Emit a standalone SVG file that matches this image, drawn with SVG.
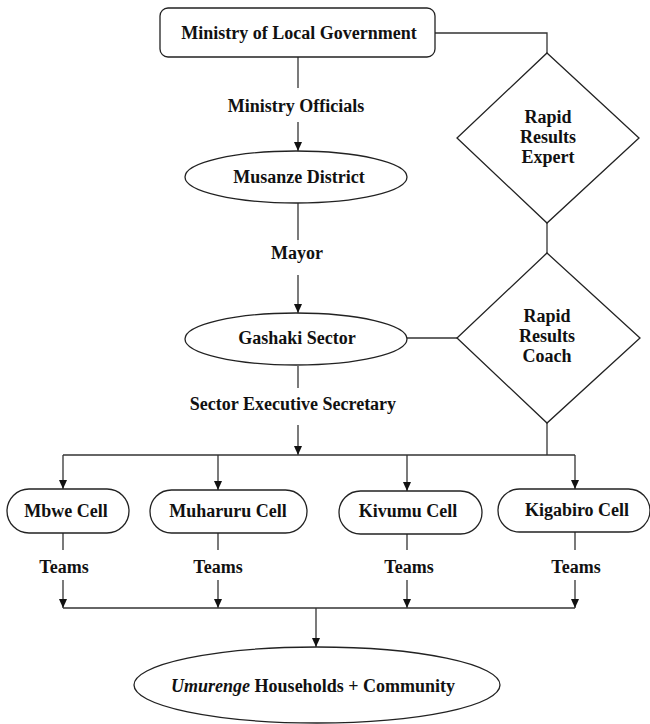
<svg xmlns="http://www.w3.org/2000/svg" width="650" height="724" viewBox="0 0 650 724">
<defs>
<marker id="arr" markerUnits="userSpaceOnUse" markerWidth="9" markerHeight="9" refX="9" refY="4.5" orient="auto">
<path d="M0,0.5 L9,4.5 L0,8.5 z" fill="#111"/>
</marker>
<style>
.shape{fill:#fff;stroke:#222;stroke-width:1.3}
.ln{fill:none;stroke:#333;stroke-width:1.3}
.t{font-family:"Liberation Serif","Times New Roman",serif;font-weight:bold;font-size:18px;fill:#111;text-anchor:middle}
</style>
</defs>
<rect width="650" height="724" fill="#fff"/>
<g id="connectors">
<path class="ln" d="M435,33 H547 V53"/>
<path class="ln" d="M547,223 V253"/>
<path class="ln" d="M407,338 H457"/>
<path class="ln" d="M547,423 V455"/>
<path class="ln" d="M298,57 V88"/>
<path class="ln" d="M298,122 V151" marker-end="url(#arr)"/>
<path class="ln" d="M298,203 V240"/>
<path class="ln" d="M298,275 V313" marker-end="url(#arr)"/>
<path class="ln" d="M298,366 V388"/>
<path class="ln" d="M298,425 V455" marker-end="url(#arr)"/>
<path class="ln" d="M63,455 H575"/>
<path class="ln" d="M63,455 V489" marker-end="url(#arr)"/>
<path class="ln" d="M218,455 V490" marker-end="url(#arr)"/>
<path class="ln" d="M407,455 V491" marker-end="url(#arr)"/>
<path class="ln" d="M575,455 V489" marker-end="url(#arr)"/>
<path class="ln" d="M63,533 V550 M218,533 V550 M407,534 V550 M575,532 V550"/>
<path class="ln" d="M63,580 V608" marker-end="url(#arr)"/>
<path class="ln" d="M218,580 V608" marker-end="url(#arr)"/>
<path class="ln" d="M407,580 V608" marker-end="url(#arr)"/>
<path class="ln" d="M575,580 V608" marker-end="url(#arr)"/>
<path class="ln" d="M63,608 H575"/>
<path class="ln" d="M316,608 V647" marker-end="url(#arr)"/>
<text class="t" x="296" y="112">Ministry Officials</text>
<text class="t" x="297" y="259">Mayor</text>
<text class="t" x="293" y="410">Sector Executive Secretary</text>
<text class="t" x="64" y="573">Teams</text>
<text class="t" x="218" y="573">Teams</text>
<text class="t" x="409" y="573">Teams</text>
<text class="t" x="576" y="573">Teams</text>
</g>
<g id="ministry">
<rect class="shape" x="160" y="8" width="275" height="49" rx="8"/>
<text class="t" x="299" y="39">Ministry of Local Government</text>
</g>
<g id="expert">
<path class="shape" d="M547,53 L639,138 L547,223 L457,138 z"/>
<text class="t" x="548" y="123">Rapid</text>
<text class="t" x="548" y="143">Results</text>
<text class="t" x="548" y="163">Expert</text>
</g>
<g id="musanze">
<ellipse class="shape" cx="296" cy="177" rx="111" ry="26"/>
<text class="t" x="299" y="183">Musanze District</text>
</g>
<g id="coach">
<path class="shape" d="M547,253 L640,338 L547,423 L457,338 z"/>
<text class="t" x="547" y="322">Rapid</text>
<text class="t" x="547" y="342">Results</text>
<text class="t" x="547" y="362">Coach</text>
</g>
<g id="gashaki">
<ellipse class="shape" cx="296" cy="339" rx="111" ry="26"/>
<text class="t" x="297" y="344">Gashaki Sector</text>
</g>
<g id="mbwe">
<rect class="shape" x="7" y="489" width="122" height="44" rx="22"/>
<text class="t" x="66" y="517">Mbwe Cell</text>
</g>
<g id="muharuru">
<rect class="shape" x="150" y="490" width="157" height="43" rx="21.5"/>
<text class="t" x="228" y="517">Muharuru Cell</text>
</g>
<g id="kivumu">
<rect class="shape" x="339" y="491" width="143" height="43" rx="21.5"/>
<text class="t" x="408" y="517">Kivumu Cell</text>
</g>
<g id="kigabiro">
<rect class="shape" x="498" y="489" width="152" height="43" rx="21.5"/>
<text class="t" x="577" y="516">Kigabiro Cell</text>
</g>
<g id="community">
<ellipse class="shape" cx="317" cy="685" rx="183" ry="38"/>
<text class="t" x="313" y="692"><tspan font-style="italic">Umurenge</tspan> Households + Community</text>
</g>
</svg>
